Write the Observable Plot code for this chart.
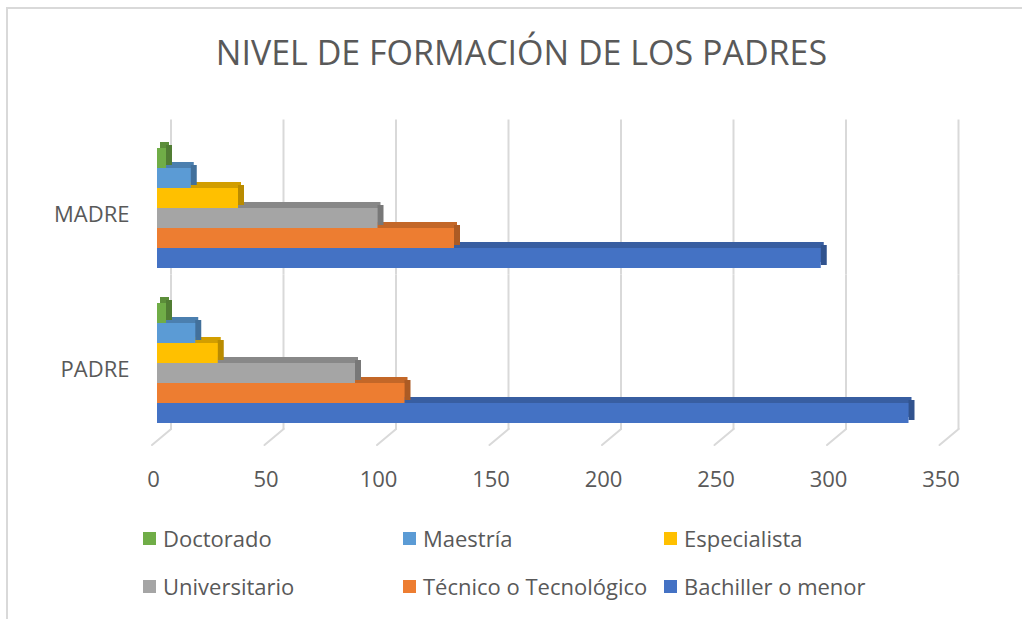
<!DOCTYPE html>
<html><head><meta charset="utf-8">
<script src="https://cdn.jsdelivr.net/npm/d3@7"></script>
<script src="https://cdn.jsdelivr.net/npm/@observablehq/plot@0.6"></script>
<style>
body{margin:0;background:#fff;font-family:"Open Sans",sans-serif;}
#wrap{position:relative;width:1022px;height:619px;overflow:hidden;background:#fff;}
#border{position:absolute;left:6px;top:7px;width:1100px;height:700px;border:2px solid #d9d9d9;box-sizing:border-box;}
#title{position:absolute;top:32px;left:0;width:1043px;text-align:center;font-size:34px;line-height:40px;font-weight:400;color:#595959;white-space:nowrap;}
#chart{position:absolute;left:0;top:0;}
#legend{position:absolute;left:143px;top:523px;display:grid;grid-template-columns:260px 261px 261px;row-gap:18px;}
.item{display:flex;align-items:center;font-size:22px;color:#595959;height:30px;white-space:nowrap;}
.sw{width:13px;height:13px;margin-right:7px;flex:none;}
</style>
</head><body>
<div id="wrap">
  <div id="border"></div>
  <div id="title"></div>
  <div id="chart"></div>
  <div id="legend"></div>
</div>
<script>
const titleText = "NIVEL DE FORMACIÓN DE LOS PADRES";
const parents = ["MADRE", "PADRE"];
const levels = ["Doctorado", "Maestría", "Especialista", "Universitario", "Técnico o Tecnológico", "Bachiller o menor"];
const colors = ["#70AD47", "#5B9BD5", "#FFC000", "#A5A5A5", "#ED7D31", "#4472C4"];
const madre = [4, 15, 36, 98, 132, 295];
const padre = [4, 17, 27, 88, 110, 334];
const xTicks = [0, 50, 100, 150, 200, 250, 300, 350];

const series = {MADRE: madre, PADRE: padre};
const data = parents.flatMap(p => levels.map((l, j) => ({parent: p, level: l, value: series[p][j]})));
const topCol = new Map(levels.map((l, i) => [l, d3.color(colors[i]).darker(0.55).formatHex()]));
const sideCol = new Map(levels.map((l, i) => [l, d3.color(colors[i]).darker(0.9).formatHex()]));

document.getElementById("title").textContent = titleText;

const plot = Plot.plot({
  width: 1022,
  height: 500,
  marginLeft: 157,
  marginRight: 77.5,
  marginTop: 130,
  marginBottom: 60,
  x: {domain: [0, 350]},
  y: {domain: levels, padding: 0, axis: null},
  fy: {domain: parents, paddingInner: 0.2, paddingOuter: 0.1},
  color: {domain: levels, range: colors},
  style: {fontFamily: "Open Sans, sans-serif", fontSize: "22px", color: "#595959", background: "transparent", overflow: "visible"},
  marks: [
    Plot.ruleX(xTicks, {x: d => d, stroke: "#d9d9d9", strokeWidth: 2, insetTop: -15.5, insetBottom: -15.5, dx: 13.5, dy: -11}),
    Plot.vector(xTicks.map(t => ({t, p: "PADRE"})), {x: "t", fy: "p", frameAnchor: "bottom", anchor: "start", length: 25, rotate: 50, r: 0, stroke: "#d9d9d9", strokeWidth: 2, dx: -5.5, dy: 19.5}),
    Plot.barX(data, {x: "value", y: "level", fy: "parent", fill: d => topCol.get(d.level), dx: 3, dy: -6}),
    Plot.barX(data, {x1: "value", x2: "value", y: "level", fy: "parent", fill: d => sideCol.get(d.level), insetRight: -6, dy: -3}),
    Plot.barX(data, {x: "value", y: "level", fy: "parent", fill: "level"}),
    Plot.axisX(xTicks, {tickSize: 0, tickPadding: 46, dx: -4, label: null, fontSize: 22}),
    Plot.axisFy({anchor: "left", tickSize: 0, tickPadding: 28, dy: 6, label: null, fontSize: 22})
  ]
});
document.getElementById("chart").appendChild(plot);

const legend = document.getElementById("legend");
levels.forEach((l, i) => {
  const it = document.createElement("div");
  it.className = "item";
  const sw = document.createElement("span");
  sw.className = "sw";
  sw.style.background = colors[i];
  it.appendChild(sw);
  it.appendChild(document.createTextNode(l));
  legend.appendChild(it);
});
</script>
</body></html>
